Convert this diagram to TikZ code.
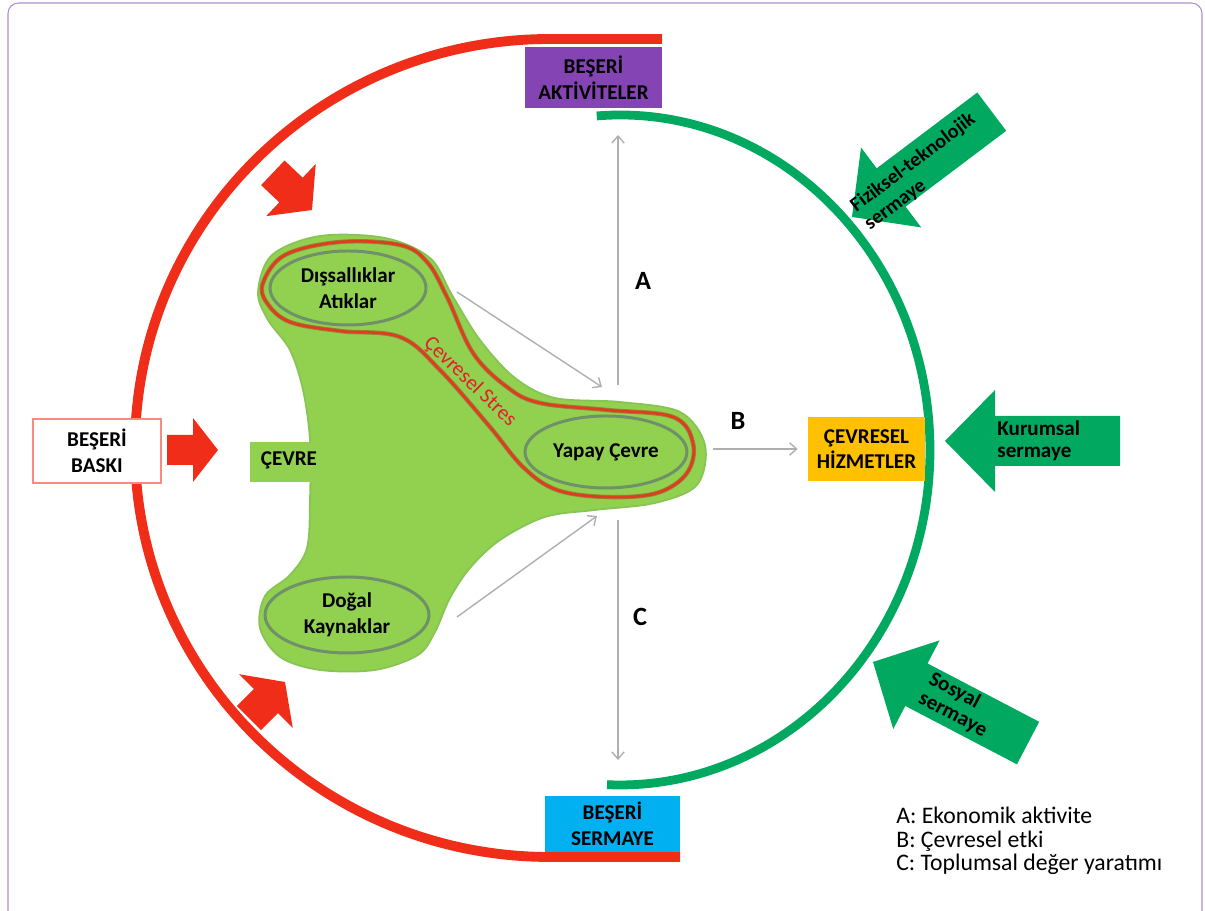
\documentclass[tikz,border=0pt]{standalone}
\usepackage{fontspec}
\setmainfont{Carlito}
\usetikzlibrary{arrows.meta,shapes.geometric}

\definecolor{baskired}{RGB}{240,45,25}
\definecolor{capgreen}{RGB}{0,168,96}
\definecolor{blobgreen}{RGB}{146,208,80}
\definecolor{blobedge}{RGB}{136,196,84}
\definecolor{ringgray}{RGB}{110,145,105}
\definecolor{stressred}{RGB}{225,60,30}
\definecolor{stressedge}{RGB}{150,130,60}
\definecolor{stresstext}{RGB}{228,30,45}
\definecolor{aktpurple}{RGB}{132,68,180}
\definecolor{sercyan}{RGB}{0,176,240}
\definecolor{hizyellow}{RGB}{255,192,0}
\definecolor{arrgray}{RGB}{175,175,175}
\definecolor{framepurple}{RGB}{175,140,205}

\tikzset{
  lbl/.style={font=\fontsize{12}{14.5}\selectfont\bfseries, align=center},
  arrtxt/.style={font=\fontsize{12}{12.5}\selectfont\bfseries, align=left, inner sep=0pt},
  grayarr/.style={arrgray, line width=0.8pt, -{Straight Barb[length=4pt,width=7pt]}},
  ring/.style={lbl, ellipse, draw=ringgray, line width=1.7pt, fill=blobgreen, inner sep=0pt},
  pics/blockarrow/.style args={#1/#2/#3/#4}{code={
    \fill[pic actions] (0,0) -- (-#2,#3) -- (-#2,#4) -- (-#1,#4) -- (-#1,-#4) -- (-#2,-#4) -- (-#2,-#3) -- cycle;}}
}

\begin{document}
\begin{tikzpicture}[x=0.02cm,y=0.02cm]

\useasboundingbox (0,0) rectangle (1205,911);
\draw[framepurple, line width=0.6pt, rounded corners=6] (8,-20) -- (8,908) -- (1202,908) -- (1202,-20);

\draw[baskired, line width=5.6pt] (662,872) -- (550,872) arc[start angle=90, end angle=270, x radius=415, y radius=409] -- (680,54);
\draw[capgreen, line width=5pt] (620,461) ++(94.3:310 and 335) arc[start angle=94.3, end angle=-92.4, x radius=310, y radius=335];

\node[lbl, fill=aktpurple, minimum width=2.74cm, minimum height=1.22cm] (aktivite) at (593.5,833.5) {BEŞERİ\\AKTİVİTELER};
\node[lbl, fill=sercyan, minimum width=2.7cm, minimum height=1.12cm] (sermaye) at (612.5,87) {BEŞERİ\\SERMAYE};
\node[lbl, fill=white, draw=baskired!55, line width=0.9pt, minimum width=2.56cm, minimum height=1.28cm] (baski) at (97,460) {BEŞERİ\\BASKI};
\node[lbl, fill=hizyellow, minimum width=2.34cm, minimum height=1.28cm] (hizmet) at (866.5,462) {ÇEVRESEL\\HİZMETLER};

\fill[blobgreen, draw=blobedge, line width=1pt] plot[smooth cycle, tension=0.55] coordinates {
  (258,619) (272,656) (320,675) (385,673) (430,653) (452,616) (480,571) (515,533) (555,513)
  (620,509) (680,499) (705,466) (697,426) (655,408) (595,401) (545,394) (500,371) (470,343)
  (450,313) (435,279) (418,256) (375,241) (320,241) (280,254) (260,283) (265,315) (290,336)
  (307,363) (310,411) (310,471) (303,521) (290,561) (268,591)};
\fill[blobgreen] (250,429) rectangle (314,469);
\node[lbl] (cevre) at (289,451) {ÇEVRE};

\draw[stressedge, line width=0.5pt, double=stressred, double distance=1.5pt] plot[smooth cycle, tension=0.6] coordinates {
  (263,628) (285,656) (340,669) (400,666) (427,649) (447,614) (473,558) (507,524) (540,508)
  (607,501) (673,494) (693,468) (687,438) (657,418) (607,414) (557,421) (523,444) (490,484)
  (440,541) (400,574) (340,580) (290,589) (267,608)};
\node[font=\fontsize{12}{14}\selectfont, text=stresstext, rotate=-44] (stres) at (470,529) {Çevresel Stres};

\node[ring, minimum width=3.12cm, minimum height=1.48cm] (dissal) at (348,623) {Dışsallıklar\\Atıklar};
\node[ring, minimum width=3.24cm, minimum height=1.44cm] (yapay) at (606,459) {Yapay Çevre};
\node[ring, minimum width=3.28cm, minimum height=1.52cm] (dogal) at (347,296) {Doğal\\Kaynaklar};

\coordinate (aFrom) at (618,526);
\coordinate (aTo) at (618,776);
\coordinate (cFrom) at (618,391);
\coordinate (cTo) at (618,151);
\coordinate (bFrom) at (713,462);
\coordinate (dFrom) at (457,619);
\coordinate (dTo) at (602,524);
\coordinate (nFrom) at (457,294);
\coordinate (nTo) at (597,395);

\draw[grayarr] (aFrom) -- (aTo);
\draw[grayarr] (cFrom) -- (cTo);
\draw[grayarr, shorten >=0.2cm] (bFrom) -- (hizmet.west);
\draw[grayarr] (dFrom) -- (dTo);
\draw[grayarr] (nFrom) -- (nTo);

\node[font=\fontsize{15}{17}\selectfont\bfseries] (labA) at (643,630) {A};
\node[font=\fontsize{15}{17}\selectfont\bfseries] (labB) at (738,490) {B};
\node[font=\fontsize{15}{17}\selectfont\bfseries] (labC) at (640,294) {C};

\pic[fill=baskired] at (218,461) {blockarrow=51/25/32/15};
\pic[fill=baskired, rotate=-43.5] at (312,701) {blockarrow=54/29/36/17};
\pic[fill=baskired, rotate=45] at (285,229) {blockarrow=51/27/38/17};

\pic[fill=capgreen, rotate=217] at (852,694) {blockarrow=175/49/50/24};
\pic[fill=capgreen, rotate=180] at (945,470) {blockarrow=175/50/51/25};
\pic[fill=capgreen, rotate=152.4] at (873,249) {blockarrow=175/49/50/24};

\node[arrtxt, font=\fontsize{11.5}{13}\selectfont\bfseries, rotate=37] (fiziksel) at (920,739) {Fiziksel-teknolojik\\sermaye};
\node[arrtxt, anchor=west] (kurumsal) at (997,470) {Kurumsal\\sermaye};
\node[arrtxt, rotate=-27.6] (sosyal) at (958,206) {Sosyal\\sermaye};

\node[anchor=west, align=left, font=\fontsize{13.5}{13.2}\selectfont, inner sep=0pt] (legend) at (896,70) {A: Ekonomik aktivite\\B: Çevresel etki\\C: Toplumsal değer yaratımı};

\end{tikzpicture}
\end{document}
